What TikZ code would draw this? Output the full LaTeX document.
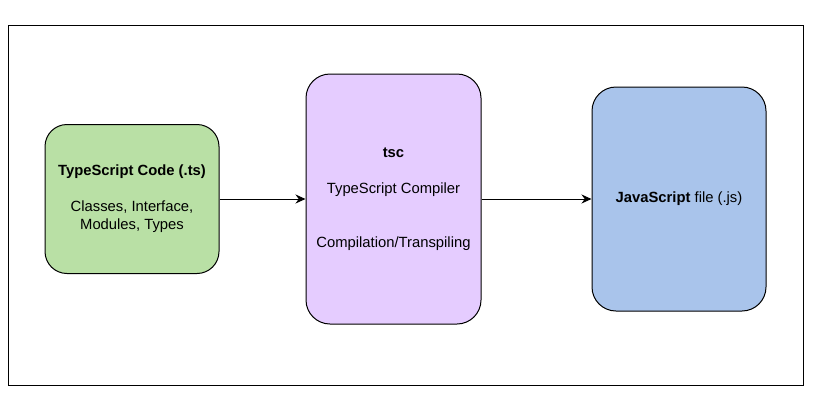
\documentclass[tikz,border=0pt]{standalone}
\usepackage{fontspec}
\setmainfont{Liberation Sans}
\usepackage{tikz}
\usetikzlibrary{positioning, arrows.meta}
\definecolor{tsgreen}{HTML}{B9E0A5}
\definecolor{tscpurple}{HTML}{E5CCFF}
\definecolor{jsblue}{HTML}{A9C4EB}
\tikzstyle{stage}=[draw, line width=1pt, rounded corners=24pt, align=center, inner sep=0pt, font=\fontsize{14.8}{18}\selectfont]
\tikzstyle{arrow}=[-{Stealth[length=10pt,width=9pt]}, line width=1pt]

\begin{document}
\begin{tikzpicture}[x=1pt, y=-1pt]
      \useasboundingbox (0,0) rectangle (817,405);
      \draw [line width=1pt] (8,25) rectangle (803,385);

      \node [stage, fill=tsgreen, minimum width=174pt, minimum height=149pt, rounded corners=22pt] (source) at (132,199)
        {\textbf{TypeScript Code (.ts)}\\[18pt]Classes, Interface,\\Modules, Types};
      \node [stage, fill=tscpurple, minimum width=175pt, minimum height=250pt] (compiler) at (393.5,199)
        {\textbf{tsc}\\[18pt]TypeScript Compiler\\[36pt]Compilation/Transpiling};
      \node [stage, fill=jsblue, minimum width=174pt, minimum height=224pt] (output) at (679,199)
        {\textbf{JavaScript} file (.js)};

      \draw [arrow] (source) -- (compiler);
      \draw [arrow] (compiler) -- (output);
    \end{tikzpicture}
\end{document}
